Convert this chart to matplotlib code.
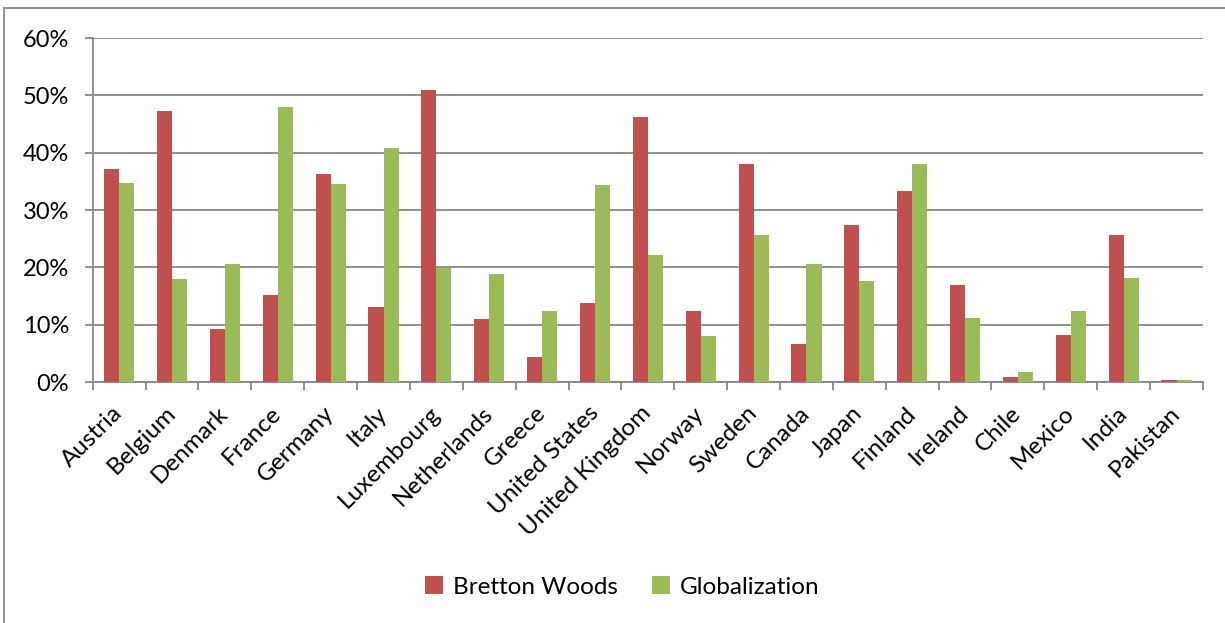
import numpy as np
import matplotlib
matplotlib.use('Agg')
import matplotlib.pyplot as plt
from matplotlib.ticker import FuncFormatter, FixedLocator
from matplotlib.patches import Rectangle

matplotlib.rc('font', **{'family': 'sans-serif',
                         'sans-serif': ['Lato', 'DejaVu Sans'], 'size': 16})

countries = ['Austria', 'Belgium', 'Denmark', 'France', 'Germany', 'Italy',
             'Luxembourg', 'Netherlands', 'Greece', 'United States',
             'United Kingdom', 'Norway', 'Sweden', 'Canada', 'Japan',
             'Finland', 'Ireland', 'Chile', 'Mexico', 'India', 'Pakistan']
bretton_woods = [37.2, 47.3, 9.3, 15.2, 36.2, 13.0, 51.0, 11.0, 4.4, 13.7,
                 46.3, 12.3, 38.0, 6.7, 27.4, 33.3, 17.0, 0.9, 8.2, 25.6, 0.35]
globalization = [34.7, 17.9, 20.5, 48.0, 34.5, 40.9, 19.9, 18.8, 12.3, 34.3,
                 22.2, 8.0, 25.7, 20.5, 17.6, 38.1, 11.2, 1.7, 12.3, 18.1, 0.3]

red = '#C0504D'
green = '#9BBB59'
grid_col = '#868686'

fig = plt.figure(figsize=(12.25, 6.23), dpi=100)
ax = fig.add_axes([0.0757, 0.3868, 0.9063, 0.5522])

x = np.arange(len(countries))
w = 0.285
ax.bar(x - w / 2, bretton_woods, w, color=red, label='Bretton Woods',
       edgecolor='none', zorder=3)
ax.bar(x + w / 2, globalization, w, color=green, label='Globalization',
       edgecolor='none', zorder=3)

ax.set_xlim(-0.5, len(countries) - 0.5)
ax.set_ylim(0, 60)
ax.set_yticks(np.arange(0, 61, 10))
ax.yaxis.set_major_formatter(FuncFormatter(lambda v, p: '%d%%' % v))
ax.yaxis.grid(True, color=grid_col, lw=1.3, zorder=0)

ax.set_xticks(x)
ax.set_xticklabels(countries, rotation=45, ha='right', va='center',
                   rotation_mode='anchor', fontsize=17.5)
ax.tick_params(axis='x', which='major', length=0, pad=20)
ax.xaxis.set_minor_locator(FixedLocator(np.arange(-0.5, len(countries), 1)))
ax.tick_params(axis='x', which='minor', length=6, color=grid_col, width=1.3)
ax.tick_params(axis='y', length=6, color=grid_col, width=1.3, pad=11,
               labelsize=17)

for s in ['top', 'right']:
    ax.spines[s].set_visible(False)
for s in ['left', 'bottom']:
    ax.spines[s].set_color(grid_col)
    ax.spines[s].set_linewidth(1.3)

leg = fig.legend(loc='center', bbox_to_anchor=(0.508, 0.058), ncol=2,
                 frameon=False, handlelength=0.75, handleheight=0.75,
                 columnspacing=1.4, handletextpad=0.4, fontsize=17.5)

# outer chart frame (runs off the right and bottom of the image)
fig.patches.append(Rectangle((3.5 / 1225, -0.1), 1.2, 1.1 - 8 / 623,
                             transform=fig.transFigure, fill=False,
                             edgecolor=grid_col, lw=1.3))

fig.savefig('out.png', dpi=100)
